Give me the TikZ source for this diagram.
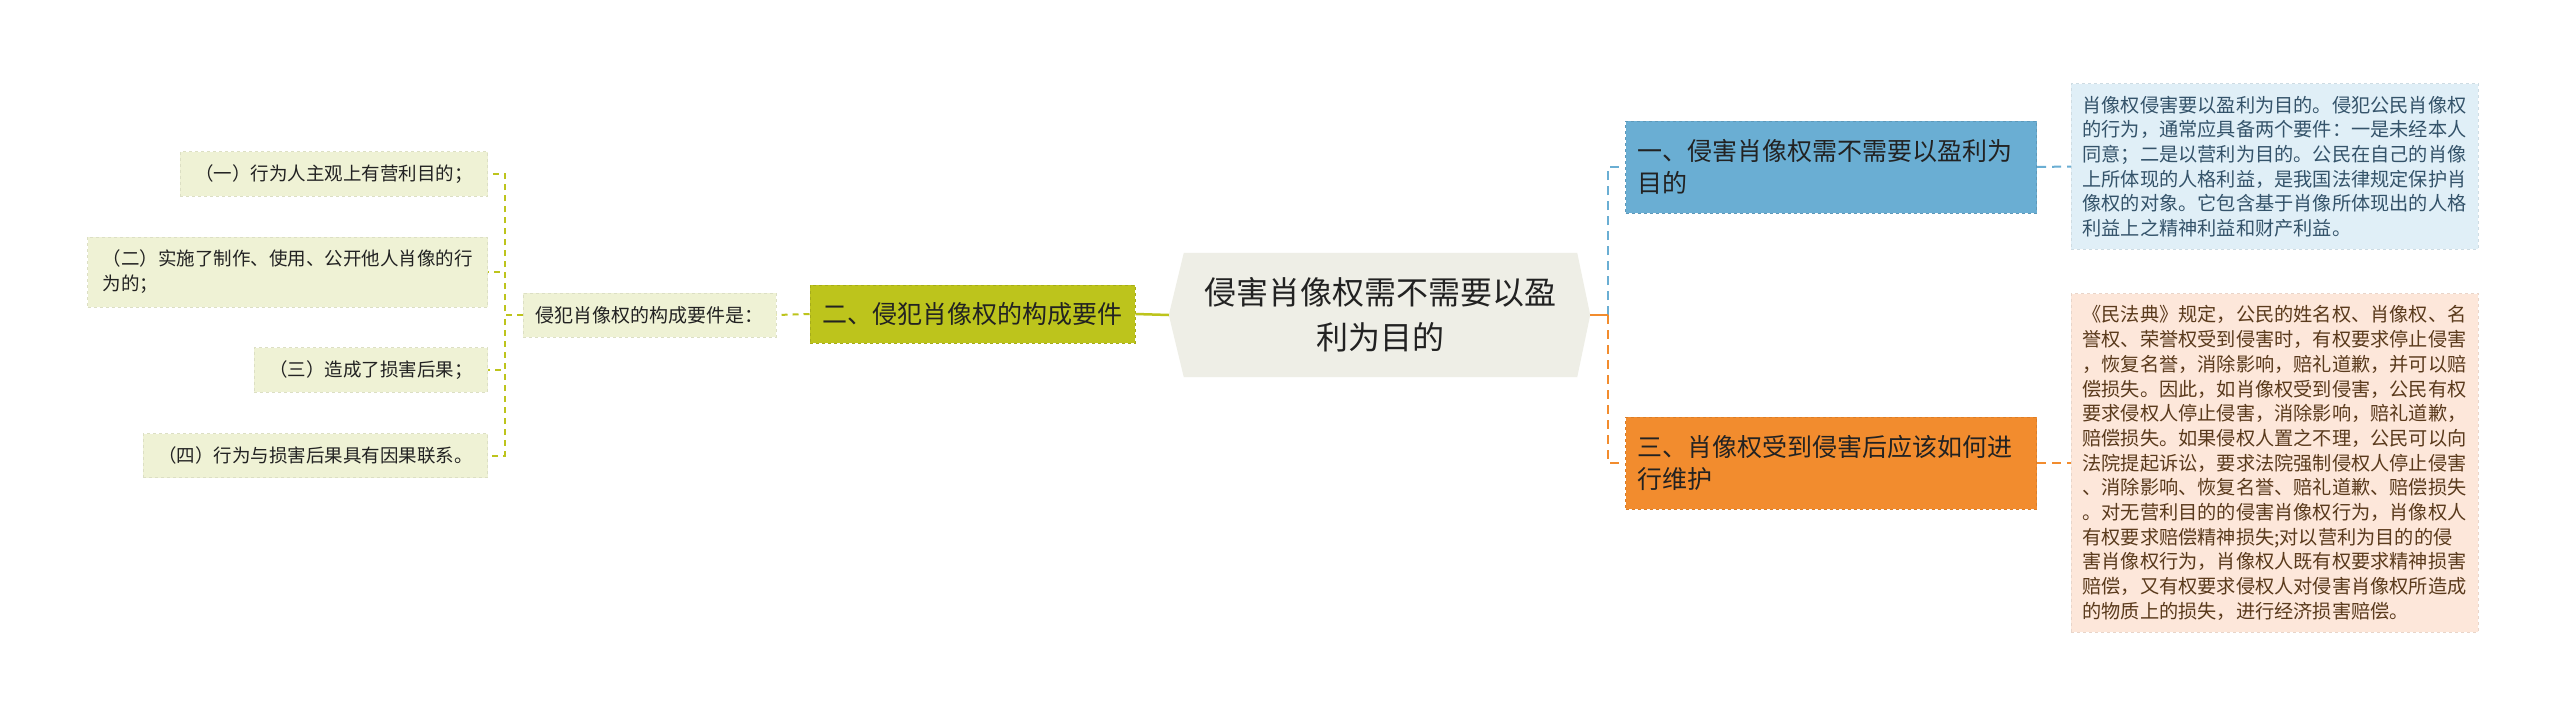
\documentclass[tikz,border=0pt]{standalone}
\usepackage{fontspec}
\usepackage{xcolor}
\usepackage{tikz}
\usetikzlibrary{arrows.meta,positioning,shapes,calc,backgrounds}

\newfontfamily\cjk{Noto Sans CJK SC}

\definecolor{rootfill}{HTML}{EEEEE6}
\definecolor{olive}{HTML}{BDC41C}
\definecolor{olivepale}{HTML}{EFF2D5}
\definecolor{skyblue}{HTML}{6AAED3}
\definecolor{skypale}{HTML}{E0EFF7}
\definecolor{tangerine}{HTML}{F28C2E}
\definecolor{peach}{HTML}{FDE7DA}
\definecolor{inkdark}{HTML}{222222}
\definecolor{bluetext}{HTML}{34536A}
\definecolor{browntext}{HTML}{5A3A1C}

\begin{document}
\begin{tikzpicture}[x=1pt,y=-1pt,
  rootbox/.style={font={\cjk\fontsize{32}{45}\selectfont}, text=inkdark, align=center,
    minimum width=393pt, minimum height=124pt, inner sep=0pt},
  branchbox/.style={font={\cjk\fontsize{25}{32}\selectfont}, text=inkdark,
    inner xsep=12pt, inner ysep=0pt, line width=1pt, dashed},
  leafbox/.style={font={\cjk\fontsize{18.5}{25}\selectfont}, text=inkdark, fill=olivepale,
    draw=olivepale!92!black, line width=0.8pt, dashed,
    inner xsep=15pt, inner ysep=13pt, minimum height=44pt},
  notebox/.style={font={\cjk\fontsize{19.2}{24.7}\selectfont}, align=left, text width=385pt,
    inner xsep=11pt, inner ysep=12pt, line width=0.8pt, dashed, anchor=west},
  oliveline/.style={olive, line width=2pt, dash pattern=on 6pt off 5pt},
  blueline/.style={skyblue, line width=2pt, dash pattern=on 9pt off 6pt},
  orangeline/.style={tangerine, line width=2pt, dash pattern=on 9pt off 6pt}
]
\path[use as bounding box] (0,0) rectangle (2560,717);

% Root
\node[rootbox] (root) at (1380.5,315) {侵害肖像权需不需要以盈\\利为目的};
\coordinate (roottipw) at ($(root.west)+(-15,0)$);
\coordinate (roottipe) at ($(root.east)+(13,0)$);
\begin{scope}[on background layer]
\fill[white] (0,0) rectangle (2560,717);
\fill[rootfill] (root.north west) -- (root.north east) -- (roottipe) -- (root.south east)
  -- (root.south west) -- (roottipw) -- cycle;
\end{scope}

% Left branch
\node[branchbox, fill=olive, draw=olive!88!black, minimum width=325pt, minimum height=58pt] (req) at (972.5,314) {二、侵犯肖像权的构成要件};
\node[leafbox, inner xsep=12pt, font={\cjk\fontsize{19}{25}\selectfont}, minimum width=253pt] (reqlist) at (649.5,315) {侵犯肖像权的构成要件是：};
\node[leafbox, anchor=east] (itemone) at (488,174) {（一）行为人主观上有营利目的；};
\node[leafbox, anchor=east, align=left] (itemtwo) at (488,272) {（二）实施了制作、使用、公开他人肖像的行\\为的；};
\node[leafbox, anchor=east] (itemthree) at (488,370) {（三）造成了损害后果；};
\node[leafbox, anchor=east] (itemfour) at (488,455.5) {（四）行为与损害后果具有因果联系。};

\draw[olive, line width=2.5pt] (roottipw) -- (req.east);
\draw[oliveline] (req.west) -- (reqlist.east);
\coordinate (leftbus) at ($(reqlist.west)+(-18,0)$);
\foreach \leaf in {itemone,itemtwo,itemthree,itemfour}
  \draw[oliveline] (reqlist.west) -- (leftbus) |- (\leaf.east);

% Right branches
\node[branchbox, fill=skyblue, draw=skyblue!88!black, anchor=west, align=left, text width=387pt, minimum height=92pt] (profit) at (1625,167) {一、侵害肖像权需不需要以盈利为\\目的};
\node[branchbox, fill=tangerine, draw=tangerine!90!black, anchor=west, align=left, text width=387pt, minimum height=92pt] (remedy) at (1625,463) {三、肖像权受到侵害后应该如何进\\行维护};

\node[notebox, fill=skypale, draw=skypale!92!black, text=bluetext] (profitnote) at (2071,166.5) {肖像权侵害要以盈利为目的。侵犯公民肖像权\\的行为，通常应具备两个要件：一是未经本人\\同意；二是以营利为目的。公民在自己的肖像\\上所体现的人格利益，是我国法律规定保护肖\\像权的对象。它包含基于肖像所体现出的人格\\利益上之精神利益和财产利益。};
\node[notebox, fill=peach, draw=peach!92!black, text=browntext] (remedynote) at (2071,463) {《民法典》规定，公民的姓名权、肖像权、名\\誉权、荣誉权受到侵害时，有权要求停止侵害\\，恢复名誉，消除影响，赔礼道歉，并可以赔\\偿损失。因此，如肖像权受到侵害，公民有权\\要求侵权人停止侵害，消除影响，赔礼道歉，\\赔偿损失。如果侵权人置之不理，公民可以向\\法院提起诉讼，要求法院强制侵权人停止侵害\\、消除影响、恢复名誉、赔礼道歉、赔偿损失\\。对无营利目的的侵害肖像权行为，肖像权人\\有权要求赔偿精神损失;对以营利为目的的侵\\害肖像权行为，肖像权人既有权要求精神损害\\赔偿，又有权要求侵权人对侵害肖像权所造成\\的物质上的损失，进行经济损害赔偿。};

\coordinate (rightbus) at ($(roottipe)+(18,0)$);
\draw[blueline] (rightbus) |- (profit.west);
\draw[orangeline] (rightbus) |- (remedy.west);
\draw[tangerine, line width=2.5pt] (roottipe) -- (rightbus);
\draw[blueline] (profit.east) -- (profitnote.west);
\draw[orangeline] (remedy.east) -- (remedynote.west);

\end{tikzpicture}
\end{document}
